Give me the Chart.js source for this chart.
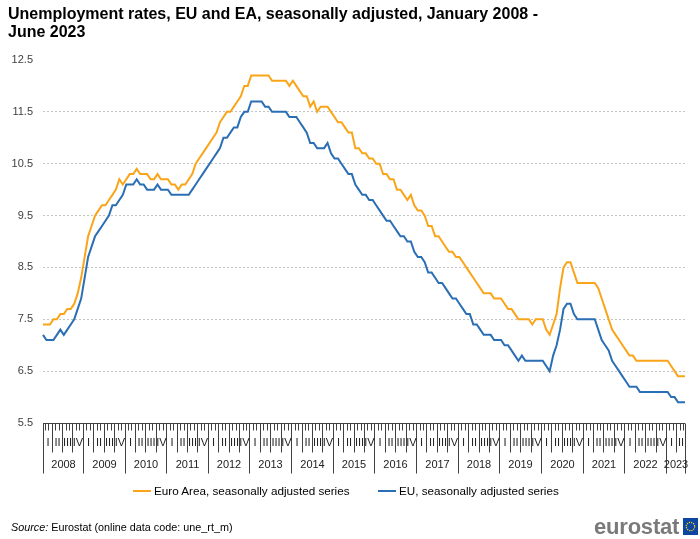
<!DOCTYPE html>
<html>
<head>
<meta charset="utf-8">
<script src="https://cdn.jsdelivr.net/npm/chart.js@4.4.0/dist/chart.umd.min.js"></script>
<style>
  html, body { margin: 0; padding: 0; background: #fff; }
  body { width: 700px; height: 539px; position: relative; overflow: hidden;
         font-family: Arial, "Liberation Sans", sans-serif; color: #000; }
  #chart { position: absolute; left: 0; top: 0; }
  .title { position: absolute; left: 8px; top: 5px; font-size: 16px; font-weight: bold; line-height: 18px; }
  .legend { position: absolute; top: 483px; font-size: 11.7px; line-height: 16px; white-space: nowrap; }
  .legend i { display: inline-block; width: 18px; height: 2px; vertical-align: middle; margin-right: 3px; margin-top: -2px; }
  .source { position: absolute; left: 11px; top: 520px; font-size: 10.8px; line-height: 14px; }
  .logo { position: absolute; left: 594px; top: 515px; font-size: 22px; font-weight: bold; color: #7a7a7a; letter-spacing: -0.2px; line-height: 24px; }
  .flag { position: absolute; left: 683px; top: 518px; }
</style>
</head>
<body>
<canvas id="chart" width="700" height="539"></canvas>
<div class="title">Unemployment rates, EU and EA, seasonally adjusted, January 2008 -<br>June 2023</div>
<div class="legend" style="left:133px"><i style="background:#FAA519"></i>Euro Area, seasonally adjusted series</div>
<div class="legend" style="left:378px"><i style="background:#2A6EB4"></i>EU, seasonally adjusted series</div>
<div class="source"><i>Source:</i> Eurostat (online data code: une_rt_m)</div>
<div class="logo">eurostat</div>
<svg class="flag" width="15" height="17" viewBox="0 0 15 17">
  <rect width="15" height="17" fill="#0E47A1"/>
  <circle cx="7.5" cy="8.5" r="4.2" fill="none" stroke="#FFD617" stroke-width="1.2" stroke-dasharray="1.2 1"/>
</svg>

<script>
// categories
const years = [2008, 2009, 2010, 2011, 2012, 2013, 2014, 2015, 2016, 2017, 2018, 2019, 2020, 2021, 2022, 2023];
const monthsInLastYear = 6;
const quarterNames = ["I", "II", "III", "IV"];
const yTicks = { min: 5.5, max: 12.5, step: 1 };

// Euro Area, seasonally adjusted (%), one row per year
const euroArea = [
  7.4, 7.4, 7.4, 7.5, 7.5, 7.6, 7.6, 7.7, 7.7, 7.8, 8.0, 8.3,
  8.7, 9.1, 9.3, 9.5, 9.6, 9.7, 9.7, 9.8, 9.9, 10.0, 10.2, 10.1,
  10.2, 10.3, 10.3, 10.4, 10.3, 10.3, 10.3, 10.2, 10.2, 10.3, 10.2, 10.2,
  10.2, 10.1, 10.1, 10.0, 10.1, 10.1, 10.2, 10.3, 10.5, 10.6, 10.7, 10.8,
  10.9, 11.0, 11.1, 11.3, 11.4, 11.5, 11.5, 11.6, 11.7, 11.8, 12.0, 12.0,
  12.2, 12.2, 12.2, 12.2, 12.2, 12.2, 12.1, 12.1, 12.1, 12.1, 12.1, 12.0,
  12.1, 12.0, 11.9, 11.8, 11.8, 11.6, 11.7, 11.5, 11.6, 11.6, 11.6, 11.5,
  11.4, 11.3, 11.3, 11.2, 11.1, 11.1, 10.8, 10.8, 10.7, 10.7, 10.6, 10.6,
  10.5, 10.5, 10.3, 10.3, 10.2, 10.2, 10.0, 10.0, 9.9, 9.8, 9.9, 9.7,
  9.6, 9.6, 9.5, 9.3, 9.3, 9.1, 9.1, 9.0, 8.9, 8.8, 8.8, 8.7,
  8.7, 8.6, 8.5, 8.4, 8.3, 8.2, 8.1, 8.0, 8.0, 8.0, 7.9, 7.9,
  7.9, 7.8, 7.7, 7.7, 7.6, 7.5, 7.5, 7.5, 7.5, 7.4, 7.5, 7.5,
  7.5, 7.3, 7.2, 7.4, 7.6, 8.1, 8.5, 8.6, 8.6, 8.4, 8.2, 8.2,
  8.2, 8.2, 8.2, 8.2, 8.1, 7.9, 7.7, 7.5, 7.3, 7.2, 7.1, 7.0,
  6.9, 6.8, 6.8, 6.7, 6.7, 6.7, 6.7, 6.7, 6.7, 6.7, 6.7, 6.7,
  6.7, 6.6, 6.5, 6.4, 6.4, 6.4
];

// EU, seasonally adjusted (%)
const eu = [
  7.2, 7.1, 7.1, 7.1, 7.2, 7.3, 7.2, 7.3, 7.4, 7.5, 7.7, 7.9,
  8.3, 8.7, 8.9, 9.1, 9.2, 9.3, 9.4, 9.5, 9.7, 9.7, 9.8, 9.9,
  10.1, 10.1, 10.1, 10.2, 10.1, 10.1, 10.0, 10.0, 10.0, 10.1, 10.0, 10.0,
  10.0, 9.9, 9.9, 9.9, 9.9, 9.9, 9.9, 10.0, 10.1, 10.2, 10.3, 10.4,
  10.5, 10.6, 10.7, 10.8, 11.0, 11.0, 11.1, 11.2, 11.2, 11.4, 11.5, 11.5,
  11.7, 11.7, 11.7, 11.7, 11.6, 11.6, 11.5, 11.5, 11.5, 11.5, 11.5, 11.4,
  11.4, 11.4, 11.3, 11.2, 11.1, 10.9, 10.9, 10.8, 10.8, 10.8, 10.9, 10.7,
  10.6, 10.6, 10.5, 10.4, 10.3, 10.3, 10.1, 10.0, 9.9, 9.9, 9.8, 9.8,
  9.7, 9.6, 9.5, 9.4, 9.4, 9.3, 9.2, 9.1, 9.1, 9.0, 9.0, 8.8,
  8.7, 8.7, 8.6, 8.4, 8.4, 8.3, 8.2, 8.2, 8.1, 8.0, 7.9, 7.9,
  7.8, 7.7, 7.6, 7.6, 7.4, 7.4, 7.3, 7.2, 7.2, 7.2, 7.1, 7.1,
  7.1, 7.0, 7.0, 6.9, 6.8, 6.7, 6.8, 6.7, 6.7, 6.7, 6.7, 6.7,
  6.7, 6.6, 6.5, 6.8, 7.0, 7.3, 7.7, 7.8, 7.8, 7.6, 7.5, 7.5,
  7.5, 7.5, 7.5, 7.5, 7.3, 7.1, 7.0, 6.9, 6.7, 6.6, 6.5, 6.4,
  6.3, 6.2, 6.2, 6.2, 6.1, 6.1, 6.1, 6.1, 6.1, 6.1, 6.1, 6.1,
  6.1, 6.0, 6.0, 5.9, 5.9, 5.9
];

// month categories like "2008-01"
const months = [];
years.forEach((y, k) => {
  const count = k === years.length - 1 ? monthsInLastYear : 12;
  for (let m = 1; m <= count; m++) months.push(y + "-" + String(m).padStart(2, "0"));
});

const FONT = 'Arial, "Liberation Sans", sans-serif';
const AXIS_COLOR = "#404040";

/* multi level axis: month ticks / quarters / years, drawn from the x scale */
const multiLevelAxis = {
  id: "multiLevelAxis",
  afterDraw(chart) {
    const { ctx, chartArea } = chart;
    const x = chart.scales.x;
    const n = months.length;
    const half = (x.getPixelForValue(1) - x.getPixelForValue(0)) / 2;
    const bound = (i) => {
      const px = Math.min(chartArea.right, Math.max(chartArea.left, x.getPixelForValue(i) - half));
      return Math.round(px) + 0.5;
    };
    const y0 = Math.round(chartArea.bottom) + 0.5;

    ctx.save();
    ctx.strokeStyle = AXIS_COLOR;
    ctx.lineWidth = 1;
    ctx.beginPath();
    for (let i = 0; i <= n; i++) {
      const px = bound(i);
      let len = 7;
      if (i % 3 === 0 || i === n) len = 29;
      if (i % 12 === 0 || i === n) len = 50;
      ctx.moveTo(px, y0);
      ctx.lineTo(px, y0 + len);
    }
    ctx.stroke();

    // axis line
    ctx.beginPath();
    ctx.moveTo(chartArea.left, y0);
    ctx.lineTo(chartArea.right, y0);
    ctx.stroke();

    ctx.fillStyle = "#222";
    ctx.font = "11px " + FONT;
    ctx.textAlign = "center";
    ctx.textBaseline = "middle";
    for (let s = 0; s < n; s += 3) {
      const e = Math.min(s + 3, n);
      ctx.fillText(quarterNames[(s / 3) % 4], (bound(s) + bound(e)) / 2, y0 + 19);
    }
    years.forEach((y, k) => {
      const s = k * 12;
      const e = Math.min(s + 12, n);
      ctx.fillText(String(y), (bound(s) + bound(e)) / 2, y0 + 41);
    });
    ctx.restore();
  }
};

Chart.defaults.font.family = FONT;

new Chart(document.getElementById("chart"), {
  type: "line",
  data: {
    labels: months,
    datasets: [
      {
        label: "Euro Area, seasonally adjusted series",
        data: euroArea,
        borderColor: "#FAA519",
        borderWidth: 2,
        pointRadius: 0,
        tension: 0,
      },
      {
        label: "EU, seasonally adjusted series",
        data: eu,
        borderColor: "#2A6EB4",
        borderWidth: 2,
        pointRadius: 0,
        tension: 0,
      },
    ],
  },
  options: {
    responsive: false,
    devicePixelRatio: 1,
    animation: false,
    layout: { padding: { top: 60, right: 15, bottom: 116, left: 0 } },
    plugins: { legend: { display: false }, tooltip: { enabled: false } },
    scales: {
      x: {
        type: "category",
        offset: false,
        grid: { display: false, drawTicks: false },
        border: { display: false },
        ticks: { display: false },
      },
      y: {
        min: yTicks.min,
        max: yTicks.max,
        afterFit: (s) => { s.width = 43; },
        ticks: { stepSize: yTicks.step, padding: 10, color: AXIS_COLOR, font: { size: 11 } },
        grid: {
          drawTicks: false,
          color: (c) => (c.tick && (c.tick.value === yTicks.min || c.tick.value === yTicks.max)) ? "rgba(0,0,0,0)" : "#c4c4c4",
        },
        border: { display: false, dash: [2, 2] },
      },
    },
  },
  plugins: [multiLevelAxis],
});
</script>
</body>
</html>
